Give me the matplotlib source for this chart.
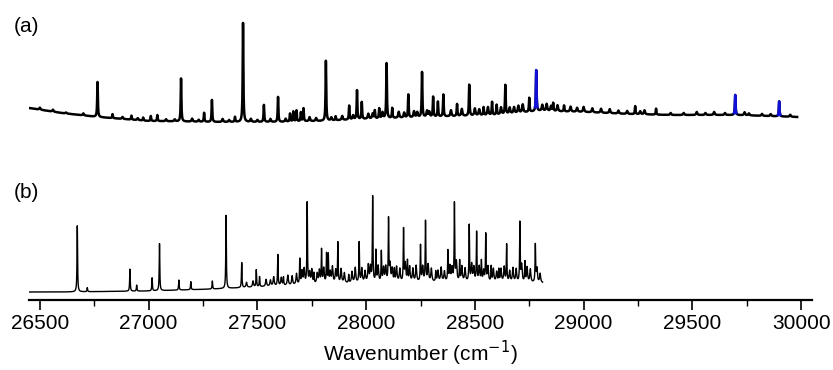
import numpy as np
import matplotlib.pyplot as plt
from matplotlib.ticker import MultipleLocator

plt.rcParams['font.family'] = ['Liberation Sans', 'DejaVu Sans']

# ---- trace (a): baseline anchors and peaks (wavenumber, height) ----
a_base_w = [26450, 26600, 26765, 27000, 27300, 27600, 27800, 28000, 28300, 28600, 28800, 29000, 29200, 29400, 29700, 29982]
a_base_y = [192, 187, 183, 179, 178, 178, 179, 181, 183, 185, 189, 188, 186, 185, 185, 183]
a_peak_w = [26765, 26834, 26921, 26975, 27010, 27040, 27149, 27255, 27291, 27397,
            27434, 27530, 27595, 27650, 27665, 27680, 27700, 27712, 27815, 27860,
            27922, 27958, 27980, 28040, 28060, 28094, 28120, 28194, 28257, 28308,
            28330, 28355, 28418, 28474, 28540, 28579, 28600, 28640, 28750, 28860,
            28910, 29237, 29333]
a_peak_h = [35, 4, 4, 3, 5, 6, 43, 9, 22, 5,
            99, 17, 25, 8, 10, 11, 9, 13, 60, 4,
            14, 29, 17, 8, 10, 55, 10, 23, 45, 20,
            15, 22, 12, 31, 8, 13, 10, 29, 14, 8,
            6, 8, 6]
# small fuzz bumps on (a)
a_fuzz_w = [26500, 26560, 26620, 26700, 26880, 26950, 27080, 27120, 27200, 27230,
            27340, 27370, 27470, 27500, 27560, 27630, 27740, 27770, 27840, 27890,
            27940, 28010, 28030, 28075, 28150, 28175, 28220, 28235, 28280, 28290,
            28390, 28440, 28500, 28520, 28560, 28620, 28660, 28680, 28700, 28720,
            28810, 28830, 28850, 28880, 28940, 28970, 29000, 29040, 29080, 29120,
            29160, 29200, 29260, 29280, 29400, 29460, 29520, 29560, 29600, 29650,
            29740, 29760, 29820, 29860, 29950]
a_fuzz_h = [2, 2, 1, 2, 2, 2, 2, 2, 3, 2,
            3, 2, 3, 2, 3, 3, 4, 3, 3, 4,
            4, 5, 5, 6, 6, 5, 6, 5, 6, 5,
            6, 7, 7, 6, 8, 7, 6, 6, 7, 8,
            6, 7, 5, 6, 5, 4, 5, 4, 4, 4,
            3, 3, 3, 4, 2, 2, 3, 2, 3, 2,
            3, 2, 2, 2, 2]
# vinoxy bands (blue)
vin_w = [28782, 29697, 29899]
vin_h = [41, 20, 15]

# ---- trace (b) ----
b_base_w = [26450, 26600, 27000, 27300, 27600, 27800, 28000, 28400, 28812]
b_base_y = [8, 8, 9, 11, 14, 16, 17, 18, 17]
b_peak_w = [26672, 26718, 26914, 26945, 27016, 27050, 27139, 27194, 27293, 27356,
            27428, 27495, 27510, 27594, 27620, 27695, 27729, 27760, 27795, 27818,
            27826, 27870, 27920, 27968, 28030, 28045, 28070, 28103, 28130, 28172,
            28190, 28250, 28273, 28320, 28376, 28406, 28430, 28474, 28508, 28530,
            28550, 28575, 28610, 28646, 28707, 28730, 28778]
b_peak_h = [66, 4, 22, 6, 13, 47, 10, 8, 8, 73,
            25, 17, 10, 31, 8, 25, 81, 10, 33, 29,
            28, 40, 8, 40, 85, 31, 30, 62, 12, 52,
            20, 36, 60, 10, 30, 77, 20, 56, 49, 20,
            47, 15, 12, 37, 59, 20, 37]
b_fuzz_w = [27450, 27480, 27540, 27560, 27575, 27610, 27640, 27660, 27680, 27705,
            27715, 27740, 27750, 27775, 27785, 27805, 27835, 27845, 27860, 27885,
            27900, 27935, 27950, 27980, 27995, 28010, 28020, 28055, 28080, 28090,
            28110, 28120, 28140, 28155, 28180, 28200, 28215, 28230, 28260, 28285,
            28300, 28330, 28345, 28360, 28385, 28395, 28415, 28440, 28455, 28485,
            28495, 28520, 28540, 28560, 28585, 28600, 28620, 28635, 28660, 28675,
            28690, 28715, 28740, 28755, 28785, 28800]
b_fuzz_h = [5, 6, 7, 6, 9, 8, 10, 9, 11, 13,
            15, 11, 14, 10, 13, 15, 11, 16, 13, 14,
            10, 11, 15, 14, 11, 17, 15, 16, 14, 15,
            17, 13, 15, 13, 18, 15, 13, 16, 15, 17,
            13, 11, 14, 10, 15, 13, 19, 15, 13, 17,
            14, 15, 11, 15, 13, 10, 13, 15, 11, 14,
            13, 17, 15, 13, 14, 9]

grid_a = np.arange(26450, 29982, 0.5)
grid_b = np.arange(26450, 28812, 0.5)


def lorentz(x, pos, hts, g):
    y = np.zeros_like(x)
    for p, h in zip(pos, hts):
        y += h * g**2 / ((x - p)**2 + g**2)
    return y


ya = (np.interp(grid_a, a_base_w, a_base_y) + lorentz(grid_a, a_peak_w, a_peak_h, 1.8)
      + lorentz(grid_a, a_fuzz_w, a_fuzz_h, 3.0) + lorentz(grid_a, vin_w, vin_h, 1.8))
yb = (np.interp(grid_b, b_base_w, b_base_y) + lorentz(grid_b, b_peak_w, b_peak_h, 1.5)
      + lorentz(grid_b, b_fuzz_w, b_fuzz_h, 2.8))

fig = plt.figure(figsize=(8.33, 3.70), dpi=100)
ax = fig.add_axes([29 / 833, 70 / 370, 783 / 833, 300 / 370])

ax.plot(grid_a, ya, color='black', lw=1.8)
for v in vin_w:
    m = np.abs(grid_a - v) < 6
    ax.plot(grid_a[m], ya[m], color='#1010d8', lw=1.8)
ax.plot(grid_b, yb, color='black', lw=1.0)

ax.text(555, 246, 'vinoxy', color='#1010d8', fontsize=13.5, ha='center', va='center')
fig.text(14 / 833, 1 - 27 / 370, '(a)', fontsize=15, va='center')
fig.text(14 / 833, 1 - 193 / 370, '(b)', fontsize=15, va='center')

ax.set_xlim(26450, 30050)
ax.set_ylim(0, 300)
for s in ['top', 'right', 'left']:
    ax.spines[s].set_visible(False)
ax.spines['bottom'].set_linewidth(1.6)
ax.yaxis.set_visible(False)
ax.xaxis.set_major_locator(MultipleLocator(500))
ax.xaxis.set_minor_locator(MultipleLocator(250))
ax.tick_params(axis='x', which='major', length=7, width=1.2, labelsize=15, pad=3)
ax.tick_params(axis='x', which='minor', length=4, width=1.0)
ax.set_xlabel('Wavenumber (cm$^{-1}$)', fontsize=15, labelpad=4)

fig.savefig('out.png', dpi=100)
